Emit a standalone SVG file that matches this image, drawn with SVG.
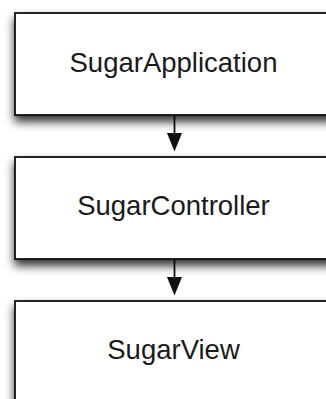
<svg xmlns="http://www.w3.org/2000/svg" width="326" height="399" viewBox="0 0 326 399">
  <style>
    .box { fill: #ffffff; stroke: #111111; stroke-width: 1.8; }
    .label { font-family: "Liberation Sans", Arial, Helvetica, sans-serif; font-size: 27.5px; fill: #1a1a1a; text-anchor: middle; }
    .edge { stroke: #111111; stroke-width: 1.8; fill: none; }
    .head { fill: #111111; }
  </style>
  <defs>
    <filter id="shadow" x="-10%" y="-20%" width="120%" height="150%">
      <feDropShadow dx="0" dy="6" stdDeviation="5" flood-color="#000000" flood-opacity="0.8"/>
    </filter>
  </defs>
  <rect width="326" height="399" fill="#ffffff"/>

  <g id="connectors">
    <line class="edge" x1="174.5" y1="115" x2="174.5" y2="136"/>
    <polygon class="head" points="167,133 182,133 174.5,151.5"/>
    <line class="edge" x1="174.5" y1="259" x2="174.5" y2="280"/>
    <polygon class="head" points="167,277 182,277 174.5,295.5"/>
  </g>

  <g id="sugar-application">
    <rect class="box" x="15" y="13" width="320" height="102" filter="url(#shadow)"/>
    <text class="label" x="173.5" y="72">SugarApplication</text>
  </g>

  <g id="sugar-controller">
    <rect class="box" x="15" y="157" width="320" height="102" filter="url(#shadow)"/>
    <text class="label" x="173.5" y="215">SugarController</text>
  </g>

  <g id="sugar-view">
    <rect class="box" x="15" y="301" width="320" height="110" filter="url(#shadow)"/>
    <text class="label" x="173.5" y="359">SugarView</text>
  </g>
</svg>
